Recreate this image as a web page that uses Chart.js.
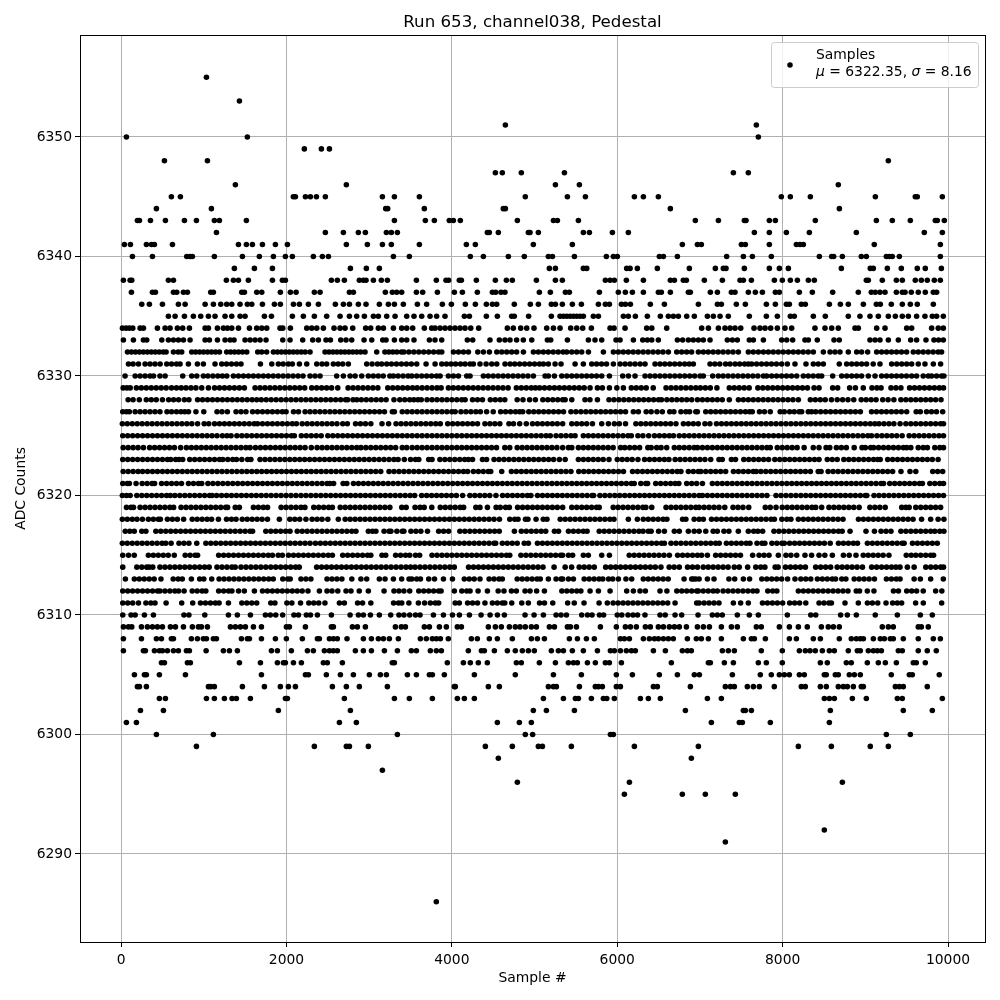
<!DOCTYPE html>
<html>
<head>
<meta charset="utf-8">
<title>Run 653, channel038, Pedestal</title>
<script src="https://cdn.jsdelivr.net/npm/chart.js@4"></script>
<style>
  html, body { margin: 0; padding: 0; background: #fff; }
  canvas { display: block; }
</style>
</head>
<body>
<canvas id="chart" width="1000" height="1000"></canvas>
<script>
// sample numbers, one list per ADC level
const adc6355 = [1032];
const adc6353 = [1431];
const adc6351 = [4647,7682];
const adc6350 = [64,1527,7706];
const adc6349 = [2216,2422,2519];
const adc6348 = [524,1044,9278];
const adc6347 = [4526,4610,4840,5361,7404,7585];
const adc6346 = [1382,2724,5252,5542,8673];
const adc6345 = [608,717,2083,2108,2229,2289,2362,2470,3160,3305,3607,4888,5397,5615,6207,6316,6497,7984,8093,8335,9121,9604,9628,9931];
const adc6344 = [427,1092,3200,3224,3667,4622,4647,6642,8686];
const adc6343 = [197,222,355,536,766,911,1128,1189,1515,3305,3679,3788,3969,4018,4102,4792,5228,5276,5530,6944,7223,7537,7557,7839,7912,8395,9133,9326,9544,9846,9870,9955];
const adc6342 = [1153,2470,2688,2869,2954,3208,3268,3341,4429,4453,4562,4925,4945,5046,5590,5663,5941,6134,7658,7839,8045,8323,8891,9713,9931];
const adc6341 = [40,113,306,367,403,621,1419,1515,1588,1709,1866,2011,2724,2978,3160,3268,3607,4175,4284,4985,5457,6787,6969,7017,7501,7549,7839,8166,8210,8250,9108,9907];
const adc6340 = [137,379,794,834,862,1128,1467,1672,1842,1987,2071,2325,2434,2507,3293,3486,4223,4381,4683,4876,5167,5216,5482,5868,5953,6001,6509,6558,6727,7323,7525,7634,7863,8444,8593,8617,8722,8951,9012,9254,9290,9326,9411,9907];
const adc6339 = [1370,1612,1830,2773,2966,3123,5179,5252,5590,5631,6114,6155,6243,6485,6872,7186,7283,7315,7537,7839,7960,8069,8710,9060,9096,9266,9435,9628,9725,9919];
const adc6338 = [28,109,129,572,633,1273,1358,1419,1539,1830,1950,1987,2543,2615,2700,2881,2930,2962,3051,3147,3220,3571,3812,3929,3961,4090,4115,4296,4526,4659,4731,5022,5252,5336,5856,5913,5965,6110,6316,6642,6691,6799,6836,7053,7271,7485,7525,7622,7900,7996,8093,8178,8311,8383,9012,9036,9205,9375,9447,9604,9677,9749,9834,9907];
const adc6337 = [125,379,415,633,673,754,802,1084,1116,1459,1491,1640,1701,1926,2047,2116,2337,2406,2761,2809,3196,3280,3333,3393,3571,3647,3825,4030,4127,4308,4490,4530,4594,4642,5058,5191,5373,5421,5784,6013,6098,6183,6316,6497,6533,6642,6860,6884,7126,7211,7380,7424,7585,7670,7755,7912,7960,8202,8359,8605,8915,9072,9120,9177,9238,9375,9447,9480,9556,9640,9725,9822,9862];
const adc6336 = [250,342,500,693,774,1016,1116,1205,1277,1338,1438,1527,1580,1709,1854,1926,2084,2156,2265,2386,2591,2688,2761,2869,2962,3123,3232,3305,3413,3583,3695,3885,3994,4163,4284,4417,4490,4542,4755,4949,5046,5203,5252,5336,5457,5566,5772,5856,5905,6050,6098,6159,6400,6570,6981,7211,7259,7440,7549,7803,7912,8045,8081,8226,8274,8565,8698,8794,8976,9133,9181,9314,9447,9544,9628,9822];
const adc6335 = [572,653,766,874,963,1056,1136,1257,1338,1439,1499,1733,1818,2071,2204,2337,2486,2648,2761,2849,2942,3051,3111,3212,3313,3454,3542,3635,3736,3816,3917,4151,4212,4417,4550,4723,4755,4928,5203,5308,5349,5390,5430,5470,5510,5550,5590,5711,5772,6074,6134,6219,6364,6521,6618,6678,6739,6840,6932,7090,7162,7243,7343,7597,7803,7936,8093,8141,8371,8516,8794,8935,9056,9157,9278,9363,9447,9520,9620,9721,9810,9862,9943];
const adc6334 = [16,60,100,141,230,270,439,532,592,681,745,826,1016,1056,1165,1237,1286,1338,1419,1552,1640,1701,1761,1922,1955,2047,2245,2305,2366,2446,2575,2648,2708,2801,2958,3018,3111,3172,3293,3393,3454,3526,3667,3756,3796,3857,3917,3978,4038,4099,4159,4228,4324,4671,4743,4832,4905,4993,5147,5228,5308,5437,5510,5582,5687,5913,5961,6094,6356,6417,6598,7021,7102,7223,7303,7364,7424,7493,7654,7726,7787,7855,7936,8028,8109,8391,8512,8593,8673,8875,8915,9137,9238,9500,9560,9802,9882,9943];
const adc6333 = [28,149,270,310,492,572,633,693,754,834,1016,1068,1165,1257,1318,1366,1499,1560,1620,1681,1753,1955,2043,2196,2317,2386,2478,2531,2656,2720,2789,2938,3031,3164,3204,3305,3393,3454,3542,3728,3796,3877,4187,4252,4461,4574,4642,4703,4783,4864,4966,5155,5195,5397,5651,5731,5812,5985,6034,6195,6308,6364,6417,6497,6727,6791,6860,6920,6981,7041,7122,7331,7392,7452,7597,7646,7767,7988,8049,8121,8270,8311,8419,8621,8685,9056,9117,9177,9278,9399,9548,9620,9733,9830,9886,9943];
const adc6332 = [77,125,173,221,269,317,365,413,461,509,544,633,690,733,854,902,950,998,1046,1094,1142,1190,1277,1325,1373,1421,1469,1520,1652,1700,1760,1842,1890,1938,1986,2034,2082,2130,2178,2226,2285,2466,2514,2562,2610,2658,2706,2754,2802,2850,2898,2950,3091,3190,3238,3286,3334,3390,3420,3480,3540,3600,3660,3720,3780,3840,3878,4019,4080,4140,4200,4313,4381,4454,4543,4603,4663,4723,4783,4865,4986,5046,5106,5166,5226,5286,5346,5389,5450,5510,5570,5651,5832,5953,6013,6073,6133,6193,6253,6313,6373,6433,6493,6553,6618,6719,6779,6839,6899,6981,7041,7100,7160,7220,7280,7340,7400,7464,7585,7645,7706,7767,7827,7887,7947,8007,8069,8129,8189,8249,8309,8371,8492,8573,8633,8693,8794,8895,8955,9028,9137,9197,9257,9317,9377,9437,9499,9580,9640,9700,9760,9820,9880,9922];
const adc6331 = [89,145,210,290,350,410,472,552,610,670,713,814,923,995,1136,1217,1275,1335,1395,1450,1685,1822,1902,1960,2023,2071,2156,2245,2366,2430,2486,2567,2625,2680,2748,2970,3035,3100,3151,3212,3270,3330,3390,3450,3510,3575,3688,3797,3878,3935,3990,4045,4105,4160,4220,4260,4340,4414,4482,4543,4643,4704,4760,4820,4880,4940,5000,5060,5107,5167,5248,5320,5490,5590,5691,5750,5810,5870,5953,6034,6095,6155,6215,6276,6336,6457,6517,6575,6635,6695,6755,6815,6870,6920,7122,7180,7240,7310,7364,7425,7480,7540,7585,7625,7685,7745,7805,7865,7925,7988,8057,8149,8282,8371,8431,8492,8685,8774,8835,8895,8955,9015,9095,9177,9318,9380,9440,9500,9560,9640,9721,9822,9910];
const adc6330 = [48,170,230,290,350,392,470,532,745,854,915,995,1050,1110,1170,1225,1278,1358,1419,1480,1540,1600,1660,1720,1780,1840,1900,1960,2020,2080,2140,2200,2285,2345,2406,2607,2688,2769,2830,2910,2990,3050,3110,3170,3250,3293,3350,3410,3470,3515,3575,3635,3695,3755,3815,3858,3958,4019,4079,4180,4220,4381,4440,4500,4560,4620,4680,4740,4800,4860,4920,4986,5127,5167,5240,5329,5390,5450,5510,5570,5630,5690,5750,5812,5905,6066,6135,6215,6336,6396,6456,6516,6576,6636,6696,6756,6816,6876,6936,7001,7041,7154,7222,7280,7340,7400,7460,7520,7580,7640,7700,7767,7807,7867,7927,7987,8047,8107,8170,8250,8310,8370,8430,8472,8605,8714,8775,8835,8895,8955,9036,9117,9197,9257,9317,9377,9437,9497,9560,9620,9700,9761,9802,9862,9922,9950];
const adc6329 = [25,70,110,185,245,305,365,425,485,545,610,670,727,785,845,905,975,1056,1130,1190,1250,1310,1370,1430,1491,1620,1680,1740,1800,1860,1920,1980,2040,2100,2160,2220,2305,2365,2425,2485,2545,2620,2745,2805,2865,2925,2985,3045,3105,3225,3285,3345,3405,3465,3525,3580,3640,3700,3760,3820,3870,3958,4018,4078,4138,4198,4258,4318,4378,4438,4498,4558,4618,4680,4780,4840,4900,4960,5010,5060,5120,5180,5240,5300,5360,5420,5480,5540,5600,5671,5760,5820,5905,5995,6074,6170,6230,6290,6350,6435,6590,6650,6710,6770,6830,6890,6950,7005,7065,7125,7205,7355,7415,7475,7535,7595,7700,7760,7820,7880,7940,8000,8060,8120,8180,8240,8300,8380,8440,8605,8665,8810,8880,8975,9080,9140,9190,9310,9370,9430,9535,9595,9655,9715,9775,9835,9895,9945];
const adc6328 = [85,145,220,305,365,425,500,575,635,695,765,820,925,985,1045,1105,1165,1225,1285,1345,1405,1465,1525,1585,1640,1695,1755,1815,1875,1935,1995,2055,2115,2175,2235,2295,2355,2415,2475,2535,2595,2655,2715,2740,2805,2850,2905,2965,3025,3085,3145,3205,3300,3370,3430,3490,3540,3590,3630,3700,3760,3820,3880,3940,4000,4060,4120,4160,4250,4310,4370,4465,4525,4585,4640,4790,4860,4940,5010,5100,5160,5220,5280,5340,5370,5450,5610,5670,5760,5900,5960,6020,6080,6140,6200,6260,6320,6380,6440,6500,6535,6600,6660,6720,6780,6840,6900,6970,7030,7090,7150,7210,7270,7355,7465,7525,7585,7645,7705,7765,7825,7885,7945,8005,8065,8125,8190,8335,8395,8455,8515,8590,8660,8725,8790,8860,8950,9010,9070,9130,9210,9275,9345,9430,9490,9550,9610,9670,9730,9790,9850,9915];
const adc6327 = [20,65,100,170,230,290,350,410,470,555,610,670,725,770,815,905,1000,1160,1220,1285,1390,1450,1510,1590,1650,1710,1770,1830,1890,1950,1995,2085,2145,2225,2285,2345,2405,2465,2525,2585,2645,2705,2765,2825,2885,2945,3005,3065,3125,3185,3280,3305,3400,3460,3520,3580,3640,3700,3760,3820,3880,3940,4000,4040,4110,4170,4230,4290,4345,4420,4500,4590,4650,4710,4770,4820,4857,4930,4990,5050,5110,5170,5230,5290,5350,5440,5500,5560,5620,5680,5740,5800,5860,5920,5980,6040,6100,6195,6255,6350,6410,6480,6545,6635,6685,6770,6830,6875,6950,6969,7070,7130,7190,7250,7310,7370,7430,7490,7550,7600,7633,7720,7780,7850,7970,8020,8085,8140,8200,8230,8310,8350,8400,8460,8520,8580,8640,8700,8760,8820,8880,8940,9075,9135,9195,9255,9315,9375,9435,9500,9615,9665,9740,9800,9860,9935];
const adc6326 = [15,75,135,195,255,315,375,435,495,555,615,675,735,795,855,925,1005,1060,1130,1190,1250,1310,1370,1430,1490,1550,1610,1650,1710,1770,1830,1890,1950,2010,2070,2120,2190,2250,2310,2370,2430,2490,2550,2610,2680,2736,2835,2895,2955,3020,3155,3235,3325,3385,3445,3505,3565,3625,3685,3745,3805,3860,3950,4010,4070,4130,4190,4250,4310,4400,4460,4520,4580,4690,4745,4820,4900,4975,5035,5095,5155,5215,5275,5340,5450,5510,5570,5630,5700,5812,5893,5965,6025,6100,6225,6285,6345,6405,6465,6525,6585,6645,6710,6800,6860,6920,6980,7060,7120,7200,7260,7320,7380,7440,7500,7560,7620,7680,7740,7800,7860,7920,7980,8040,8100,8160,8220,8280,8340,8400,8460,8520,8580,8640,8700,8760,8820,8880,8940,9000,9060,9115,9165,9225,9285,9345,9420,9490,9550,9610,9670,9730,9790,9850,9910,9945];
const adc6325 = [20,80,140,200,260,320,380,440,500,560,620,680,740,800,860,920,980,1040,1100,1160,1225,1280,1330,1400,1460,1520,1580,1640,1700,1760,1820,1880,1940,2000,2060,2095,2180,2240,2300,2360,2420,2500,2560,2620,2680,2740,2800,2860,2920,2980,3040,3100,3160,3220,3280,3340,3400,3460,3520,3580,3640,3700,3760,3820,3880,3940,4000,4060,4120,4180,4240,4300,4360,4420,4480,4540,4600,4660,4720,4780,4840,4900,4960,5020,5080,5140,5190,5260,5320,5380,5440,5490,5590,5650,5710,5770,5830,5890,5950,6010,6070,6130,6170,6250,6310,6380,6450,6510,6570,6630,6680,6750,6810,6870,6930,6990,7050,7110,7170,7230,7290,7350,7410,7470,7530,7590,7650,7710,7770,7830,7890,7950,8010,8070,8130,8190,8250,8310,8370,8430,8490,8550,8610,8670,8730,8790,8850,8910,8970,9030,9075,9140,9200,9260,9320,9380,9445,9530,9590,9650,9710,9770,9830,9890,9945];
const adc6324 = [25,85,145,205,270,345,405,465,525,585,645,720,790,850,910,970,1030,1090,1150,1210,1270,1330,1390,1450,1510,1560,1625,1685,1745,1805,1865,1925,1985,2045,2105,2165,2225,2300,2370,2430,2490,2550,2610,2670,2730,2790,2850,2900,2960,3020,3080,3140,3200,3260,3320,3400,3454,3520,3580,3640,3700,3760,3820,3880,3940,4000,4060,4120,4180,4240,4300,4360,4420,4480,4540,4640,4700,4790,4850,4910,4970,5030,5090,5150,5210,5270,5340,5410,5450,5530,5590,5650,5710,5770,5830,5890,5950,6040,6090,6150,6210,6270,6370,6410,6477,6530,6598,6690,6750,6810,6870,6930,6970,7030,7090,7150,7210,7270,7330,7390,7450,7510,7570,7630,7690,7750,7810,7850,7935,7995,8055,8115,8175,8260,8370,8440,8525,8570,8650,8710,8770,8865,8960,9000,9065,9100,9160,9220,9280,9340,9400,9460,9500,9550,9640,9700,9750,9840,9900,9945];
const adc6323 = [20,80,140,200,260,320,380,440,500,560,600,660,700,745,830,890,950,1010,1070,1130,1190,1230,1290,1350,1395,1460,1530,1570,1680,1740,1800,1860,1920,1980,2040,2100,2160,2220,2280,2340,2400,2460,2520,2580,2640,2700,2760,2820,2880,2940,3000,3060,3120,3180,3240,3300,3350,3425,3500,3560,3600,3720,3760,3855,3915,3975,4035,4095,4155,4200,4250,4370,4420,4510,4570,4630,4690,4750,4810,4870,4930,4990,5050,5110,5170,5230,5300,5370,5530,5590,5650,5710,5770,5830,5900,6000,6060,6120,6180,6250,6330,6390,6450,6510,6570,6625,6700,6760,6820,6880,6940,7000,7060,7130,7230,7270,7380,7430,7530,7590,7650,7710,7770,7830,7905,7965,8025,8085,8145,8205,8265,8325,8385,8440,8540,8600,8660,8740,8800,8860,8920,8980,9040,9100,9150,9180,9270,9330,9390,9450,9510,9570,9630,9690,9750,9810,9880];
const adc6322 = [25,85,145,205,260,320,380,440,500,560,620,680,740,800,860,920,980,1040,1100,1160,1220,1280,1340,1400,1460,1520,1580,1640,1700,1760,1820,1880,1940,2000,2060,2120,2180,2240,2300,2360,2420,2480,2540,2600,2660,2720,2780,2840,2900,2960,3020,3080,3140,3240,3300,3360,3420,3480,3540,3600,3660,3720,3780,3840,3900,3960,4020,4080,4140,4190,4260,4320,4380,4440,4470,4603,4720,4780,4840,4900,4960,5020,5080,5140,5200,5260,5320,5380,5440,5535,5595,5655,5715,5775,5835,5895,5955,6015,6075,6185,6245,6305,6365,6425,6485,6545,6605,6665,6725,6770,6860,6920,6980,7010,7070,7130,7190,7250,7311,7405,7465,7525,7585,7645,7680,7736,7796,7856,7916,7976,8036,8096,8156,8216,8276,8336,8430,8465,8550,8610,8670,8730,8790,8850,8910,8970,9030,9090,9150,9210,9270,9330,9431,9540,9610,9815,9875,9935];
const adc6321 = [20,75,100,181,255,315,375,405,490,550,610,670,730,815,875,935,975,1050,1110,1170,1230,1290,1350,1410,1470,1530,1590,1650,1710,1770,1830,1890,1950,2010,2070,2130,2190,2250,2310,2370,2430,2490,2525,2570,2685,2730,2810,2870,2930,2990,3050,3110,3170,3230,3290,3350,3410,3470,3530,3590,3650,3710,3770,3830,3890,3950,4010,4070,4130,4190,4250,4310,4370,4430,4490,4550,4610,4670,4730,4790,4850,4910,4970,5030,5090,5150,5210,5270,5330,5390,5450,5510,5570,5630,5690,5750,5810,5870,5930,5990,6050,6110,6170,6205,6285,6345,6367,6465,6525,6585,6645,6700,6745,6840,6900,6960,7030,7150,7210,7270,7330,7390,7450,7510,7570,7630,7690,7750,7810,7870,7930,7990,8050,8110,8170,8230,8290,8350,8410,8470,8530,8590,8650,8710,8770,8830,8890,8950,9010,9070,9130,9190,9220,9295,9355,9415,9475,9535,9595,9655,9690,9780,9840,9900,9945];
const adc6320 = [15,65,110,190,250,310,370,430,490,550,595,650,710,770,830,890,950,1010,1070,1100,1155,1215,1275,1335,1395,1455,1515,1575,1635,1695,1755,1815,1875,1935,1995,2055,2115,2175,2235,2295,2355,2415,2475,2535,2595,2655,2715,2775,2835,2895,2955,3015,3075,3135,3195,3255,3315,3375,3435,3495,3550,3635,3695,3755,3815,3875,3935,3995,4055,4130,4218,4278,4338,4398,4458,4533,4613,4673,4733,4793,4853,4913,4956,5036,5096,5156,5216,5276,5336,5396,5456,5516,5576,5636,5696,5714,5790,5850,5910,5970,6030,6090,6150,6210,6270,6330,6390,6450,6510,6570,6630,6690,6750,6810,6870,6930,6990,7030,7090,7150,7210,7270,7330,7390,7450,7510,7570,7630,7690,7750,7810,7920,7980,8040,8100,8160,8220,8280,8340,8400,8460,8520,8580,8640,8700,8760,8820,8880,8940,9000,9018,9105,9165,9225,9285,9345,9405,9465,9525,9585,9645,9705,9765,9825,9885,9945];
const adc6319 = [65,120,150,230,290,350,410,470,530,590,635,725,785,845,905,965,1025,1085,1145,1205,1265,1288,1380,1430,1600,1660,1720,1771,1935,1995,2055,2115,2175,2223,2330,2390,2450,2510,2555,2650,2710,2770,2830,2890,2950,3010,3070,3130,3190,3250,3394,3447,3555,3615,3665,3757,3860,3920,3980,4040,4100,4142,4290,4340,4430,4535,4585,4650,4695,4795,4855,4915,4975,5035,5095,5155,5215,5275,5340,5450,5510,5570,5630,5690,5750,5782,5951,6010,6070,6130,6190,6250,6310,6346,6417,6590,6650,6710,6770,6830,6890,6950,6990,7050,7110,7170,7230,7300,7400,7460,7520,7590,7790,7850,7920,7995,8055,8115,8175,8235,8295,8355,8400,8472,8560,8620,8680,8740,8800,8860,8925,9055,9115,9175,9240,9440,9490,9530,9610,9670,9730,9790,9850,9910];
const adc6318 = [15,75,135,192,258,330,390,450,475,560,620,680,756,860,920,980,1040,1094,1177,1275,1335,1390,1465,1525,1585,1645,1705,1770,1914,2040,2100,2160,2235,2310,2370,2430,2500,2627,2710,2770,2830,2890,2950,3010,3070,3130,3190,3250,3310,3370,3430,3490,3550,3610,3670,3730,3790,3850,3910,3970,4030,4090,4150,4210,4270,4330,4390,4450,4510,4575,4700,4760,4800,4890,4920,5018,5105,5150,5310,5370,5430,5490,5550,5610,5670,5730,5790,5850,5910,5960,6134,6243,6315,6375,6435,6495,6555,6600,6790,6830,6930,6990,7041,7140,7200,7260,7320,7380,7440,7500,7560,7620,7680,7740,7800,7860,7900,7990,8050,8100,8190,8250,8310,8370,8430,8490,8550,8610,8670,8730,8917,8977,9037,9097,9157,9217,9277,9337,9397,9457,9517,9577,9680,9790,9880,9950];
const adc6317 = [50,105,159,250,300,420,480,540,600,660,720,780,840,900,960,1020,1080,1140,1200,1260,1320,1380,1440,1500,1560,1590,1750,1810,1870,1930,1990,2043,2130,2190,2250,2310,2370,2430,2490,2550,2610,2670,2730,2790,2840,2990,3040,3081,3180,3240,3263,3335,3400,3420,3505,3565,3625,3705,3840,3900,3960,4097,4157,4217,4277,4337,4397,4457,4517,4573,4756,4840,4900,4960,5020,5080,5135,5240,5290,5410,5470,5530,5590,5635,5782,5842,5902,5962,6022,6082,6142,6202,6262,6312,6375,6410,6500,6570,6690,6750,6860,6930,6990,7070,7160,7210,7290,7350,7464,7585,7650,7700,7758,7895,7955,8015,8075,8135,8195,8255,8315,8375,8435,8495,8555,8615,8675,8720,8815,9008,9110,9190,9250,9310,9430,9490,9550,9610,9670,9730,9790,9840,9900,9950];
const adc6316 = [15,75,135,195,255,315,375,435,495,540,605,700,760,820,915,1025,1085,1145,1205,1265,1325,1385,1445,1505,1565,1625,1685,1745,1805,1865,1925,1985,2045,2105,2165,2225,2285,2350,2410,2470,2530,2590,2650,2710,2770,2830,2890,2950,3010,3070,3130,3190,3250,3310,3370,3430,3490,3550,3610,3670,3730,3790,3850,3910,3970,4030,4090,4150,4210,4270,4330,4390,4450,4510,4530,4610,4670,4730,4790,4875,4925,5035,5095,5155,5215,5275,5335,5395,5455,5515,5575,5635,5695,5755,5815,5875,5935,5995,6055,6115,6175,6235,6295,6355,6415,6475,6535,6570,6650,6710,6770,6830,6890,6950,7010,7070,7130,7190,7233,7320,7380,7440,7500,7560,7605,7690,7750,7785,7870,7930,7990,8020,8085,8145,8205,8265,8325,8385,8445,8505,8575,8675,8735,8795,8855,8905,9025,9085,9145,9205,9265,9325,9385,9445,9469,9570,9630,9690,9750,9810,9870];
const adc6315 = [20,90,159,330,390,450,510,570,643,775,835,895,925,1180,1240,1300,1360,1420,1480,1540,1600,1660,1720,1780,1830,1900,1950,2025,2085,2145,2205,2265,2325,2385,2445,2505,2555,2680,2740,2800,2860,2920,2980,3020,3155,3200,3320,3380,3440,3490,3560,3610,3760,3820,3880,3940,4000,4060,4120,4180,4240,4300,4360,4420,4480,4540,4600,4660,4700,4835,4895,4955,5015,5075,5135,5195,5255,5315,5339,5410,5460,5590,5650,5812,5905,6145,6205,6265,6325,6385,6445,6505,6565,6630,6730,6790,6850,6910,6970,7020,7090,7190,7250,7310,7370,7430,7490,7637,7715,7775,7835,7948,8040,8100,8170,8270,8350,8440,8510,8601,8735,8805,8887,8975,9035,9095,9155,9215,9285,9495,9555,9610,9670,9730,9790,9825];
const adc6314 = [20,190,250,310,340,383,470,530,590,650,710,770,830,890,950,1010,1065,1160,1220,1280,1340,1380,1450,1510,1570,1630,1690,1750,1810,1870,1930,1990,2050,2110,2154,2365,2425,2485,2545,2605,2665,2725,2785,2845,2905,2965,3025,3085,3145,3205,3265,3325,3385,3445,3500,3555,3615,3675,3735,3795,3855,3915,3975,4029,4202,4262,4322,4382,4442,4502,4562,4622,4682,4742,4802,4862,4922,4982,5042,5102,5236,5370,5448,5540,5600,5660,5722,5860,5920,5980,6040,6100,6160,6220,6280,6340,6400,6460,6528,6628,6688,6750,6850,6910,6970,7040,7100,7160,7220,7280,7340,7415,7475,7577,7675,7735,7785,7910,7945,8035,8095,8155,8215,8275,8400,8460,8520,8580,8660,8720,8780,8840,8900,8965,9077,9137,9197,9257,9317,9370,9419,9508,9590,9731,9791,9851,9911,9945];
const adc6313 = [52,160,220,280,340,400,482,630,690,740,850,950,1000,1096,1185,1245,1305,1365,1425,1485,1545,1605,1665,1725,1785,1840,1955,2015,2045,2175,2235,2295,2490,2550,2610,2670,2790,2900,2970,3123,3192,3293,3393,3482,3515,3575,3620,3720,3790,3898,4007,4150,4210,4270,4340,4450,4510,4570,4610,4790,4850,4910,4970,5030,5069,5167,5260,5320,5340,5410,5470,5600,5660,5720,5780,5825,5895,5945,6014,6105,6175,6315,6375,6435,6495,6555,6616,6808,6900,6950,6920,6990,7090,7170,7350,7420,7525,7600,7748,7808,7868,7928,7988,8060,8149,8220,8280,8340,8420,8480,8540,8600,8640,8715,8765,8865,8925,8985,9045,9110,9255,9315,9375,9420,9590,9665,9790,9943];
const adc6312 = [20,80,140,200,260,320,380,440,470,530,590,650,695,762,860,920,980,1025,1180,1240,1300,1340,1420,1490,1612,1710,1770,1830,1890,1950,2010,2070,2130,2190,2260,2398,2490,2550,2620,2720,2780,2880,2990,3180,3300,3360,3420,3490,3600,3660,3720,3780,3840,3870,4030,4120,4180,4220,4317,4430,4560,4630,4720,4780,4885,4945,5025,5119,5330,5390,5450,5510,5560,5671,5772,5913,6114,6195,6275,6340,6517,6600,6720,6780,6840,6900,6960,6980,7040,7100,7160,7210,7280,7340,7400,7460,7520,7580,7640,7690,7820,7880,7930,8190,8250,8310,8370,8430,8490,8550,8610,8670,8730,8790,8890,8930,9024,9104,9340,9400,9500,9560,9620,9700,9850,9925];
const adc6311 = [20,80,140,210,300,360,410,544,733,866,960,1020,1080,1140,1185,1298,1460,1520,1580,1640,1810,1860,2005,2065,2170,2270,2330,2390,2465,2640,2700,2860,2920,3020,3295,3355,3394,3480,3595,3670,3740,3800,3840,4040,4090,4190,4250,4310,4400,4490,4550,4610,4640,4724,4845,4925,5060,5120,5220,5400,5480,5598,5780,5880,5950,6010,6070,6130,6190,6250,6310,6370,6430,6490,6550,6610,6699,6960,6990,7050,7110,7170,7230,7404,7492,7585,7756,7816,7876,7936,8000,8085,8145,8205,8280,8440,8500,8560,8590,8754,8915,9025,9085,9150,9250,9330,9387,9439,9608,9701,9923];
const adc6310 = [20,120,170,282,391,760,820,1012,1298,1406,1564,1745,1805,1870,1954,2090,2145,2240,2290,2374,2543,2769,2870,2930,3015,3123,3260,3360,3420,3490,3560,3615,3777,3898,4007,4091,4212,4353,4462,4551,4635,4885,4994,5107,5260,5320,5385,5570,5640,5695,5785,5835,6000,6055,6130,6190,6245,6335,6517,6580,6699,6779,6977,7150,7210,7270,7452,7597,7706,8057,8340,8400,8701,8782,8891,9120,9387,9665,9810];
const adc6309 = [28,89,129,246,318,379,439,500,596,657,754,862,935,971,1044,1322,1382,1443,1503,1600,1697,1999,2035,2229,2543,2567,2797,2857,2954,3317,3389,3438,3667,3728,3849,3933,4066,4115,4441,4526,4598,4695,4767,4824,4888,4961,5022,5179,5240,5397,5433,5506,5796,5989,6098,6159,6231,6340,6400,6497,6558,6630,6691,6751,6836,6969,7041,7114,7259,7380,7452,7682,7742,7960,8081,8190,8298,8468,8552,8613,8685,9205,9278,9338,9640,9677,9761];
const adc6308 = [28,246,427,488,608,633,850,923,995,1032,1116,1153,1455,1527,1552,1697,1866,1999,2192,2374,2398,2519,2567,2615,2732,2930,3027,3111,3172,3244,3353,3619,3691,3764,3812,3861,3957,4236,4308,4453,4550,4731,4962,5034,5119,5421,5518,5627,5723,6038,6086,6147,6316,6388,6449,6497,6558,6618,6678,6848,6956,7017,7102,7259,7525,7622,7658,7791,8081,8166,8371,8456,8685,8830,8891,8939,8976,9097,9181,9230,9302,9338,9459,9640,9822,9907];
const adc6307 = [28,270,294,403,463,500,560,633,693,790,826,1028,1237,1310,1406,1818,1890,2059,2253,2325,2458,2519,2567,2615,2833,2930,3027,3184,3341,3510,3571,3740,3812,3873,4199,4357,4393,4514,4671,4767,4852,4925,4997,5203,5288,5349,5457,5590,5760,5917,5965,6038,6110,6171,6219,6437,6582,6787,6848,6896,7271,7343,7416,7742,7996,8202,8274,8331,8395,8480,8565,8625,8794,8903,8939,9036,9097,9145,9194,9399,9447,9640,9749,9858];
const adc6306 = [488,524,802,838,1431,1685,1890,1963,1987,2084,2180,2446,2494,2676,3280,3305,3945,4139,4223,4320,4429,4780,4840,5058,5252,5409,5470,5518,5639,5735,5856,5905,6050,6654,7102,7126,7295,7404,7706,7803,7996,8456,8540,8770,8830,9024,9157,9242,9375,9580,9616,9725];
const adc6305 = [161,282,306,463,778,1697,2229,2265,2482,2652,2809,3002,3135,3208,3462,3571,3728,3764,3909,4272,4767,5228,5566,5989,6183,6509,6727,6932,6993,7392,7730,7863,7960,8020,8081,8202,8262,8504,8528,8637,8673,8806,8867,8939,9314,9532,9568,9894];
const adc6304 = [197,222,306,1056,1084,1128,1467,1733,1926,2023,2108,2555,2724,2881,3220,4030,4042,4441,4574,5167,5228,5264,5542,5735,5772,5820,5989,6038,6437,6485,6884,7307,7368,7416,7573,7646,7718,7899,8226,8274,8456,8528,8673,8734,8782,8855,8951,8976,9363,9411,9459,9749];
const adc6303 = [463,536,1032,1128,1249,1342,1394,1564,1987,2011,2700,3305,3486,3764,4066,4151,4272,5107,5349,5494,5530,5687,5832,5873,5965,6280,6376,6521,7090,7259,8504,8565,8625,8843,9012,9387,9447,9931];
const adc6302 = [234,512,1902,2773,4985,5143,5482,6824,7525,7549,7622,8577,9459,9810];
const adc6301 = [64,185,2640,2845,4550,4816,4961,7138,7476,7513,7851,8565];
const adc6300 = [427,1116,3341,4888,4977,5917,5953,9254,9544];
const adc6299 = [911,2337,2724,2761,2990,4405,4731,5046,5095,5445,6207,6981,8190,8589,9060,9278];
const adc6298 = [4562,6896];
const adc6297 = [3160];
const adc6296 = [4792,6147,8722];
const adc6295 = [6086,6787,7065,7428];
const adc6292 = [8504];
const adc6291 = [7307];
const adc6286 = [3812];

const levels = [
  [6355,adc6355],[6353,adc6353],[6351,adc6351],[6350,adc6350],[6349,adc6349],[6348,adc6348],[6347,adc6347],
  [6346,adc6346],[6345,adc6345],[6344,adc6344],[6343,adc6343],[6342,adc6342],[6341,adc6341],[6340,adc6340],
  [6339,adc6339],[6338,adc6338],[6337,adc6337],[6336,adc6336],[6335,adc6335],[6334,adc6334],[6333,adc6333],
  [6332,adc6332],[6331,adc6331],[6330,adc6330],[6329,adc6329],[6328,adc6328],[6327,adc6327],[6326,adc6326],
  [6325,adc6325],[6324,adc6324],[6323,adc6323],[6322,adc6322],[6321,adc6321],[6320,adc6320],[6319,adc6319],
  [6318,adc6318],[6317,adc6317],[6316,adc6316],[6315,adc6315],[6314,adc6314],[6313,adc6313],[6312,adc6312],
  [6311,adc6311],[6310,adc6310],[6309,adc6309],[6308,adc6308],[6307,adc6307],[6306,adc6306],[6305,adc6305],
  [6304,adc6304],[6303,adc6303],[6302,adc6302],[6301,adc6301],[6300,adc6300],[6299,adc6299],[6298,adc6298],
  [6297,adc6297],[6296,adc6296],[6295,adc6295],[6292,adc6292],[6291,adc6291],[6286,adc6286]
];

const xTicks = [0, 2000, 4000, 6000, 8000, 10000];
const yTicks = [6290, 6300, 6310, 6320, 6330, 6340, 6350];

const points = [];
levels.forEach(([adc, samples]) => {
  samples.forEach((s) => points.push({ x: s, y: adc }));
});

const fontFamily = "'DejaVu Sans'";

// title, frame and the legend box, matplotlib style
const overlay = {
  id: "overlay",
  afterDraw(chart) {
    const { ctx, chartArea: a } = chart;
    ctx.save();
    ctx.strokeStyle = "#000";
    ctx.lineWidth = 1;
    ctx.strokeRect(a.left + 0.5, a.top + 0.5, a.right - a.left, a.bottom - a.top);

    ctx.fillStyle = "#000";
    ctx.font = "16.67px " + fontFamily;
    ctx.textAlign = "center";
    ctx.textBaseline = "alphabetic";
    ctx.fillText("Run 653, channel038, Pedestal", (a.left + a.right) / 2, 27);

    // legend
    ctx.beginPath();
    ctx.roundRect(771.5, 42.5, 207, 45, 3);
    ctx.fillStyle = "rgba(255,255,255,0.8)";
    ctx.fill();
    ctx.strokeStyle = "#ccc";
    ctx.stroke();
    ctx.beginPath();
    ctx.arc(790, 65, 2.78, 0, Math.PI * 2);
    ctx.fillStyle = "#000";
    ctx.fill();

    ctx.textAlign = "left";
    ctx.font = "13.89px " + fontFamily;
    ctx.fillText("Samples", 816, 59);
    const parts = [
      ["μ", true], [" = 6322.35, ", false], ["σ", true], [" = 8.16", false]
    ];
    let x = 816;
    parts.forEach(([txt, italic]) => {
      ctx.font = (italic ? "italic " : "") + "13.89px " + fontFamily;
      ctx.fillText(txt, x, 76);
      x += ctx.measureText(txt).width;
    });
    ctx.restore();
  }
};

new Chart(document.getElementById("chart").getContext("2d"), {
  type: "scatter",
  data: {
    datasets: [{
      label: "Samples",
      data: points,
      backgroundColor: "#000",
      borderWidth: 0,
      pointRadius: 2.78,
      pointHoverRadius: 2.78
    }]
  },
  options: {
    responsive: false,
    animation: false,
    events: [],
    layout: { padding: { top: 35, right: 15, left: 0, bottom: 0 } },
    plugins: {
      legend: { display: false },
      title: { display: false },
      tooltip: { enabled: false }
    },
    scales: {
      x: {
        type: "linear",
        min: -497,
        max: 10447,
        afterBuildTicks(s) { s.ticks = xTicks.map((v) => ({ value: v })); },
        afterFit(s) { s.height = 58; },
        grid: { color: "#b0b0b0", lineWidth: 1, tickColor: "#000", tickLength: 5 },
        border: { color: "#000" },
        ticks: {
          color: "#000",
          font: { family: fontFamily, size: 13.89 },
          padding: 5,
          maxRotation: 0,
          callback: (v) => String(v)
        },
        title: {
          display: true,
          text: "Sample #",
          color: "#000",
          font: { family: fontFamily, size: 13.89 },
          padding: { top: 4, bottom: 13 }
        }
      },
      y: {
        type: "linear",
        min: 6282.63,
        max: 6358.53,
        afterBuildTicks(s) { s.ticks = yTicks.map((v) => ({ value: v })); },
        afterFit(s) { s.width = 80; },
        grid: { color: "#b0b0b0", lineWidth: 1, tickColor: "#000", tickLength: 5 },
        border: { color: "#000" },
        ticks: {
          color: "#000",
          font: { family: fontFamily, size: 13.89 },
          padding: 3,
          callback: (v) => String(v)
        },
        title: {
          display: true,
          text: "ADC Counts",
          color: "#000",
          font: { family: fontFamily, size: 13.89 },
          padding: { top: 13, bottom: 0 }
        }
      }
    }
  },
  plugins: [overlay]
});
</script>
</body>
</html>
